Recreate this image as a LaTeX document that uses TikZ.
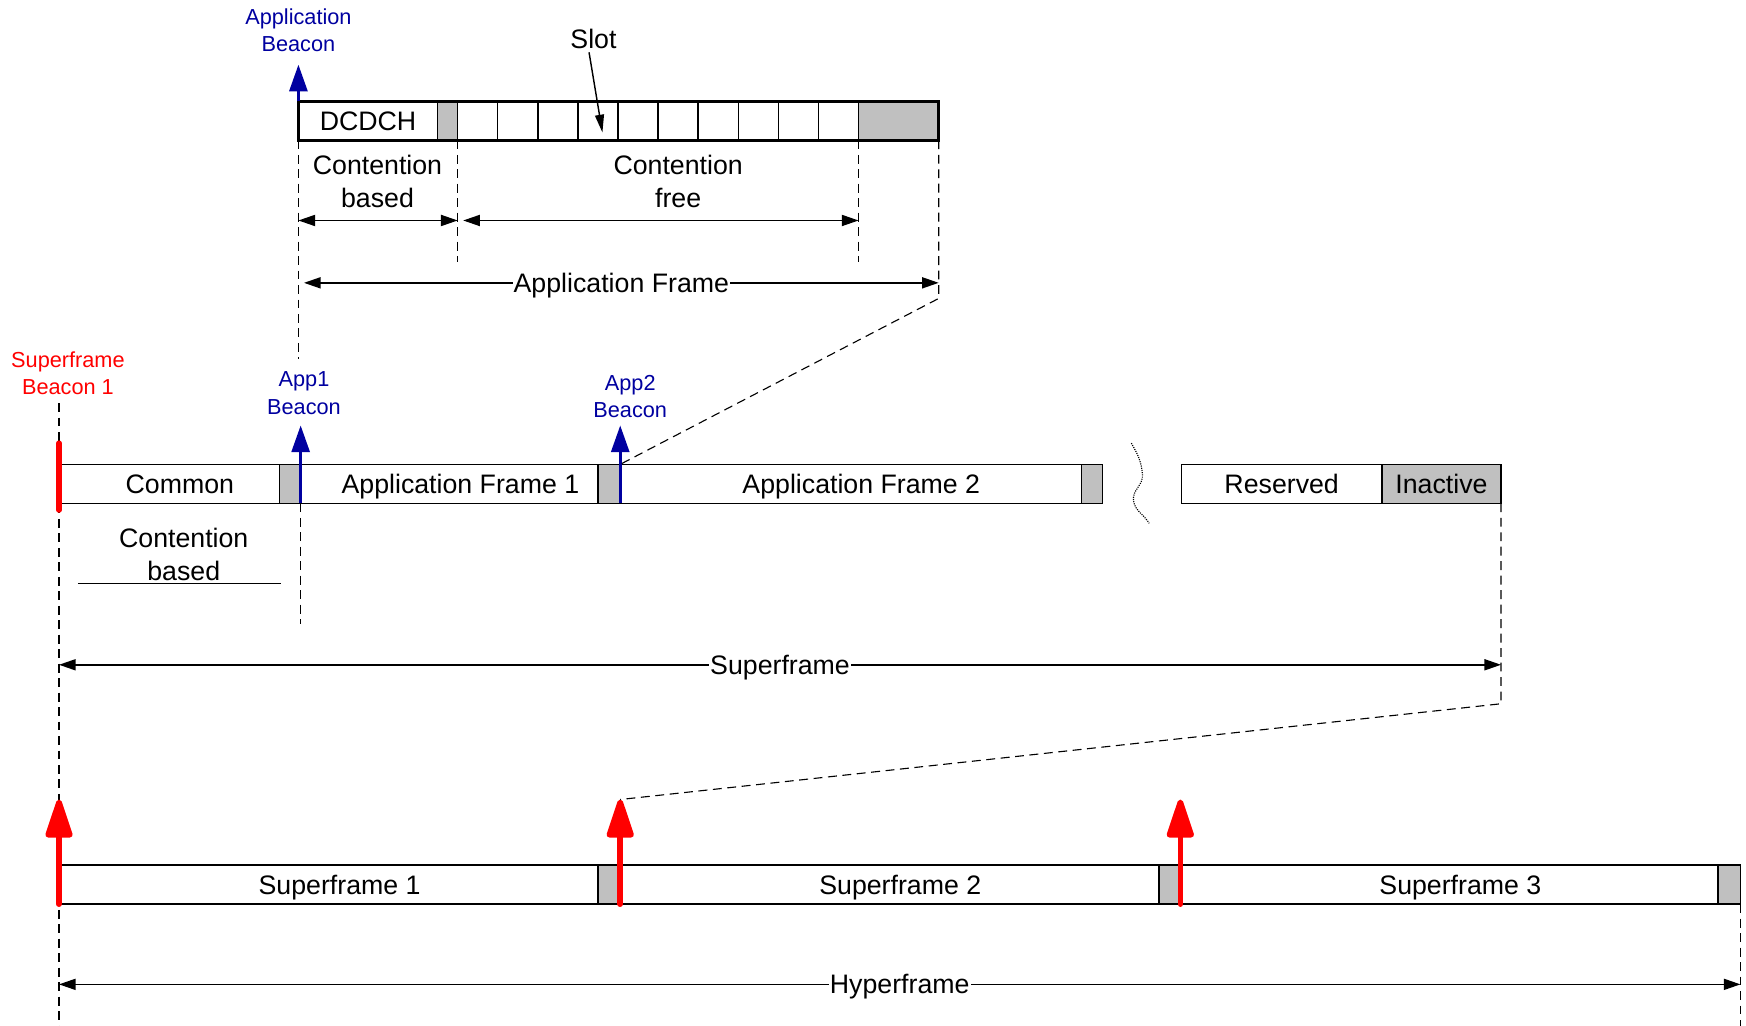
\documentclass[tikz,border=0pt]{standalone}
\usepackage{fontspec}
\setmainfont{Liberation Sans}
\usetikzlibrary{arrows.meta}

\definecolor{guardgray}{RGB}{192,192,192}
\definecolor{beaconblue}{RGB}{0,0,160}
\definecolor{beaconred}{RGB}{255,0,0}

\tikzset{
  seg/.style={draw, line width=1.3pt, minimum height=35pt, inner sep=0pt,
    outer sep=0pt, text height=17pt, text depth=0pt,
    anchor=west, font=\fontsize{24}{29}\selectfont},
  guard/.style={seg, fill=guardgray},
  txt/.style={font=\fontsize{24}{29}\selectfont, align=center, inner sep=0pt},
  lbl/.style={font=\fontsize{19.5}{24.5}\selectfont, align=center, inner sep=0pt},
  dashline/.style={line width=1pt, dash pattern=on 8pt off 5pt},
  dim/.style={line width=1.3pt,
    {Triangle[length=15pt,width=10pt]}-{Triangle[length=15pt,width=10pt]}},
  dimlabel/.style={txt, fill=white, inner sep=1pt, text height=17pt, text depth=0pt},
  bluebeacon/.style={draw=beaconblue, line width=3pt,
    -{Triangle[length=24pt,width=16pt]}},
  redbeacon/.style={draw=beaconred, line width=5pt, line cap=round,
    -{Triangle[length=40pt,width=25pt,round=false]}}
}

\begin{document}
\begin{tikzpicture}[x=1pt, y=-1pt]
  \useasboundingbox (0,0) rectangle (1568,921);

  % application frame in detail
  \node[seg, minimum width=125pt] (dcdch) at (268,108.5) {DCDCH};
  \node[guard, minimum width=18pt] (g0) at (dcdch.east) {};
  \foreach \i in {1,...,10}
    \node[seg, minimum width=36pt] (s\i) at ({411+36*(\i-1)},108.5) {};
  \node[guard, minimum width=72pt] (gt) at (s10.east) {};
  \draw[line width=2.5pt] (dcdch.north west) rectangle (gt.south east);

  \coordinate (abtip) at (268,58);
  \draw[bluebeacon] (dcdch.north west) -- (abtip);
  \node[lbl, text=beaconblue] (applbl) at (268,27) {Application\\Beacon};

  \node[txt, inner sep=3pt] (slotlbl) at (533,35) {Slot};
  \coordinate (slotend) at (541,119);
  \draw[line width=1.3pt, -{Triangle[length=16pt,width=8pt]}]
    ([xshift=-4pt]slotlbl.south) -- (slotend);

  \node[txt] (cb1) at (339,163) {Contention\\based};
  \node[txt] (cf) at (609,163) {Contention\\free};

  \coordinate (cbl) at (268,198);
  \coordinate (cbr) at (411,198);
  \coordinate (cfl) at (416,198);
  \coordinate (cfr) at (771,198);
  \coordinate (afl) at (273,254);
  \coordinate (afr) at (843,254);
  \draw[dim] (cbl) -- (cbr);
  \draw[dim] (cfl) -- (cfr);
  \draw[dim] (afl) -- (afr) node[dimlabel, midway] {Application Frame};

  \draw[dashline] (dcdch.south west) -- ++(0,196);
  \draw[dashline] (s1.south west) -- ++(0,109);
  \draw[dashline] (gt.south west) -- ++(0,109);

  % superframe
  \coordinate (sbtop) at (53,362);
  \coordinate (sbbot) at (53,921);
  \draw[dashline] (sbtop) -- (sbbot);

  \node[seg, minimum width=217pt] (common) at (53,434.5) {Common};
  \node[guard, minimum width=19pt, anchor=east] (g1) at (common.east) {};
  \node[seg, minimum width=287pt] (af1) at (common.east) {Application Frame 1};
  \node[guard, minimum width=20pt, anchor=east] (g2) at (af1.east) {};
  \node[seg, minimum width=433pt] (af2) at (af1.east) {Application Frame 2};
  \node[guard, minimum width=19pt, anchor=east] (g3) at (af2.east) {};
  \node[seg, minimum width=180pt] (resv) at (1061,434.5) {Reserved};
  \node[guard, minimum width=107pt] (inact) at (resv.east) {Inactive};

  \draw[densely dotted, line width=1pt] (1016,398) to[out=-60,in=95] (1026,426)
    to[out=-85,in=100] (1018,450) to[out=-80,in=120] (1032,470);

  \coordinate (sb1a) at (53,398);
  \coordinate (sb1b) at (53,458);
  \draw[draw=beaconred, line width=5pt, line cap=round] (sb1a) -- (sb1b);
  \node[lbl, text=beaconred] (sblbl) at (61,335) {Superframe\\Beacon 1};

  \draw[dashline] (af1.south west) -- ++(0,108);
  \draw[bluebeacon] (af1.south west) -- ++(0,-70);
  \draw[bluebeacon] (af2.south west) -- ++(0,-70);
  \node[lbl, text=beaconblue] (app1lbl) at (273,353) {App1\\Beacon};
  \node[lbl, text=beaconblue] (app2lbl) at (566,356) {App2\\Beacon};

  \draw[dashline] (gt.south east) -- ++(0,142) coordinate (afe)
    -- (af2.north west);

  \node[txt] (cb2) at (165,498) {Contention\\based};
  \coordinate (ul) at (70,524);
  \coordinate (ur) at (252,524);
  \draw[line width=1.3pt] (ul) -- (ur);

  \coordinate (sfl) at (53,597);
  \coordinate (sfr) at (1348,597);
  \draw[dim] (sfl) -- (sfr) node[dimlabel, midway] {Superframe};

  % hyperframe
  \node[seg, minimum width=504pt] (sf1) at (53,794.5) {Superframe 1};
  \node[guard, minimum width=20pt, anchor=east] (g4) at (sf1.east) {};
  \node[seg, minimum width=503pt] (sf2) at (sf1.east) {Superframe 2};
  \node[guard, minimum width=19pt, anchor=east] (g5) at (sf2.east) {};
  \node[seg, minimum width=503pt] (sf3) at (sf2.east) {Superframe 3};
  \node[guard, minimum width=20pt, anchor=east] (g6) at (sf3.east) {};

  \draw[redbeacon] (sf1.south west) -- ++(0,-94);
  \draw[redbeacon] (sf2.south west) -- ++(0,-94) coordinate (rb2);
  \draw[redbeacon] (sf3.south west) -- ++(0,-94);

  \draw[dashline] (inact.south east) -- ++(0,180) coordinate (sfe) -- (rb2);
  \draw[dashline] (sf3.south east) -- ++(0,109);

  \coordinate (hfl) at (53,884);
  \coordinate (hfr) at (1563,884);
  \draw[dim] (hfl) -- (hfr) node[dimlabel, midway] {Hyperframe};
\end{tikzpicture}
\end{document}
